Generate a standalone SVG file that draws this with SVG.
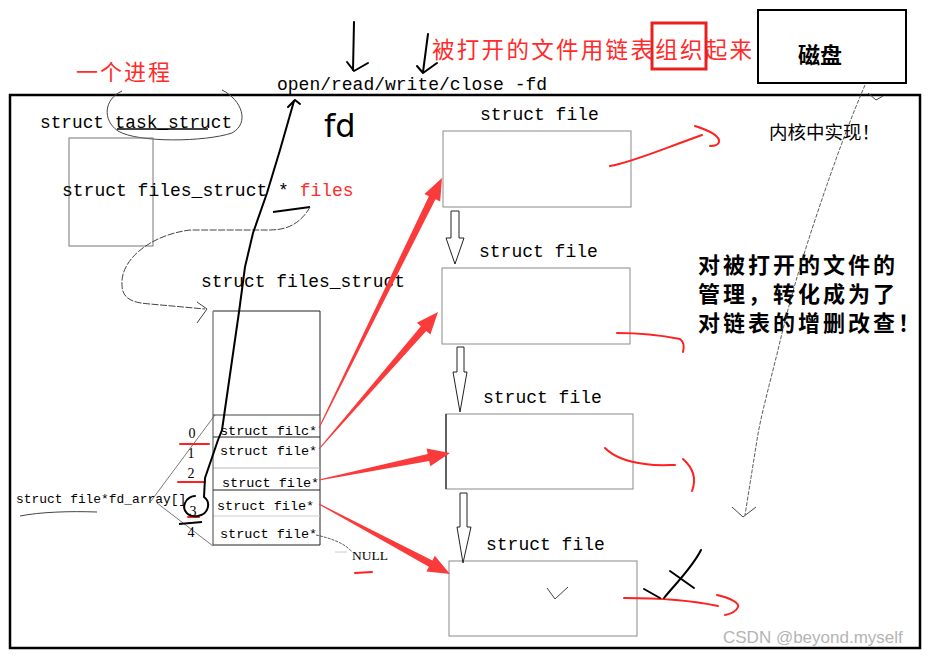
<svg xmlns="http://www.w3.org/2000/svg" width="929" height="656" viewBox="0 0 929 656">
<defs>
<style>
.mono{font-family:"Liberation Mono","DejaVu Sans Mono",monospace;fill:#000}
.serif{font-family:"Liberation Serif","DejaVu Serif",serif;fill:#000}
.cjk{font-family:"Noto Sans CJK SC",sans-serif}
.red{fill:#ff2b2b}
.box{fill:none;stroke:#8a8a8a;stroke-width:1}
.hand{fill:none;stroke:#000;stroke-width:2;stroke-linecap:round;stroke-linejoin:round}
.thin{fill:none;stroke:#444;stroke-width:1}
.rline{fill:none;stroke:#ff2020;stroke-width:2;stroke-linecap:round}
.rarrow{fill:#fb3b3b;stroke:none}
.hollow{fill:#fff;stroke:#222;stroke-width:1}
</style>
</defs>
<rect width="929" height="656" fill="#fff"/>

<!-- frame -->
<rect x="10" y="95" width="910" height="553" fill="none" stroke="#000" stroke-width="2.5"/>

<!-- disk -->
<g id="disk">
<rect x="758" y="10" width="148" height="73" fill="#fff" stroke="#000" stroke-width="2"/>
<text x="820" y="63" class="cjk" font-size="22" font-weight="bold" text-anchor="middle">磁盘</text>
</g>

<!-- title texts -->
<g id="title">
<text x="432" y="58" class="cjk red" font-size="22.5" letter-spacing="2.3">被打开的文件用链表组织起来</text>
<rect x="652" y="23" width="54" height="46" fill="none" stroke="#e82020" stroke-width="3"/>
</g>
<g id="process-label">
<text x="76" y="80" class="cjk red" font-size="22" letter-spacing="2">一个进程</text>
</g>
<g id="syscalls">
<text x="277" y="90" class="mono" font-size="18">open/read/write/close -fd</text>
<text x="324" y="137" font-family="DejaVu Sans" font-size="32" fill="#000">fd</text>
</g>

<!-- task_struct -->
<g id="task_struct">
<text x="40" y="128" class="mono" font-size="17.8">struct task_struct</text>
<line x1="117" y1="129" x2="208" y2="129" stroke="#000" stroke-width="1.5"/>
<path d="M 122 91 C 104 99, 102 120, 118 131 C 138 143, 205 142, 232 133 C 250 123, 242 100, 222 90" class="thin" stroke="#666"/>
<rect x="69" y="138" width="84" height="108" fill="none" stroke="#777" stroke-width="1"/>
<text x="62" y="196" class="mono" font-size="18">struct files_struct * <tspan class="red">files</tspan></text>
<line x1="273" y1="212" x2="310" y2="207" stroke="#000" stroke-width="2"/>
</g>

<!-- files_struct -->
<g id="files_struct">
<text x="201" y="287" class="mono" font-size="17.9">struct files_struct</text>
<path d="M 213 415 L 213 311 L 320 311 L 320 545" fill="none" stroke="#222" stroke-width="1"/>
<line x1="213" y1="311" x2="213" y2="415" stroke="#bbb" stroke-width="1"/>
<line x1="213" y1="415" x2="320" y2="415" stroke="#444" stroke-width="1"/>
<line x1="213" y1="437" x2="320" y2="437" stroke="#222" stroke-width="1"/>
<line x1="213" y1="468" x2="320" y2="468" stroke="#bbb" stroke-width="1"/>
<line x1="213" y1="490" x2="320" y2="490" stroke="#222" stroke-width="1"/>
<line x1="213" y1="516" x2="320" y2="516" stroke="#ccc" stroke-width="1"/>
<line x1="213" y1="545" x2="320" y2="545" stroke="#222" stroke-width="1"/>
<line x1="213" y1="415" x2="213" y2="545" stroke="#444" stroke-width="1"/>
<text x="220" y="435" class="mono" font-size="13.5">struct filc*</text>
<text x="220" y="455" class="mono" font-size="13.5">struct file*</text>
<text x="222" y="487" class="mono" font-size="13.5">struct file*</text>
<text x="217" y="510" class="mono" font-size="13.5">struct file*</text>
<text x="220" y="538" class="mono" font-size="13.5">struct file*</text>
</g>

<!-- fd_array -->
<g id="fd_array">
<text x="16" y="503" class="mono" font-size="12.9">struct file*fd_array[]</text>
<path d="M 20 516 C 40 512, 70 511, 97 512" class="thin" stroke="#777"/>
<line x1="151" y1="501" x2="215" y2="415" stroke="#555" stroke-width="0.8"/>
<line x1="157" y1="503" x2="213" y2="546" stroke="#555" stroke-width="0.8"/>
<g class="serif" font-size="14" text-anchor="middle">
<text x="192" y="438">0</text>
<text x="191" y="458">1</text>
<text x="191" y="478">2</text>
<text x="193" y="516">3</text>
<text x="191" y="537">4</text>
</g>
<line x1="180" y1="444" x2="209" y2="444" class="rline"/>
<line x1="178" y1="482" x2="205" y2="482" class="rline"/>
<line x1="188" y1="517" x2="199" y2="517" class="rline"/>
<line x1="179" y1="524" x2="202" y2="522" stroke="#000" stroke-width="2"/>
</g>

<!-- NULL -->
<g id="null">
<text x="352" y="560" class="serif" font-size="13.5">NULL</text>
<path d="M 316 535 C 330 538, 345 543, 352 552" fill="none" stroke="#333" stroke-width="0.8" stroke-dasharray="3 1"/>
<line x1="335" y1="552" x2="347" y2="552" stroke="#ccc" stroke-width="1"/>
<line x1="355" y1="573" x2="372" y2="572" class="rline"/>
</g>

<!-- struct file nodes -->
<g id="file1">
<text x="480" y="120" class="mono" font-size="18">struct file</text>
<rect x="443" y="131" width="188" height="76" class="box"/>
</g>
<g id="file2">
<text x="479" y="257" class="mono" font-size="18">struct file</text>
<rect x="442" y="268" width="188" height="76" class="box" stroke="#555"/>
</g>
<g id="file3">
<text x="483" y="403" class="mono" font-size="18">struct file</text>
<rect x="446" y="414" width="187" height="75" class="box" stroke="#aaa"/>
<line x1="446" y1="414" x2="446" y2="489" stroke="#000" stroke-width="1"/>
</g>
<g id="file4">
<text x="486" y="550" class="mono" font-size="18">struct file</text>
<rect x="449" y="561" width="188" height="75" class="box" stroke="#aaa"/>
<path d="M 547 588 L 555 599 L 568 587" class="thin" stroke="#222"/>
</g>

<!-- notes -->
<g id="kernel-note">
<text x="769" y="139" class="cjk" font-size="18.5" fill="#000">内核中实现！</text>
</g>
<g id="list-note" class="cjk" font-size="22" font-weight="bold" fill="#000" letter-spacing="3">
<text x="698" y="273">对被打开的文件的</text>
<text x="698" y="302">管理，转化成为了</text>
<text x="698" y="331">对链表的增删改查！</text>
</g>
<text x="723" y="643" font-family="Liberation Sans, Arial, sans-serif" font-size="17" fill="#b4b4b4">CSDN @beyond.myself</text>

<!-- connectors -->
<g id="connectors">
<!-- hollow list arrows -->
<polygon class="hollow" points="451,211 459,211 459,238 464,238 455,264 446,238 451,238"/>
<polygon class="hollow" points="457,347 464,347 464,372 467,372 460,412 453,372 457,372"/>
<polygon class="hollow" points="460,493 467,493 467,527 471,527 463,563 457,527 460,527"/>

<!-- red pointer arrows -->
<polygon class="rarrow" points="319.45,428.22 435.5,199.3 440.2,201.6 442,178 424.4,193.9 428.9,196.2 318.55,427.78"/>
<polygon class="rarrow" points="319.38,449.33 426.2,330.9 430.4,334.5 438,312 416.8,322.7 420.9,326.3 318.62,448.67"/>
<polygon class="rarrow" points="319.1,480.49 429.2,461.0 430.3,466.3 450,453 426.6,448.6 427.7,453.9 318.9,479.51"/>
<polygon class="rarrow" points="318.76,504.44 428.9,566.7 426.4,571.6 450,574 434.8,555.7 432.4,560.5 319.24,503.56"/>

<!-- files pointer to files_struct -->
<path d="M 310 207 C 300 225, 285 230, 270 230 L 190 230 C 150 235, 120 260, 122 285 C 122 300, 135 303, 150 304 L 205 309" fill="none" stroke="#444" stroke-width="1" stroke-dasharray="7 1.5"/>
<path d="M 197 302 L 207 309 L 197 323" class="thin" stroke="#333"/>

<!-- fd 3 back to syscalls -->
<path d="M 294 101 L 280 150 L 267 193 L 253 233 L 245 267 L 239 312 L 222 430 L 218 440 L 205 478 L 204 497 C 211 502, 209 514, 198 516 C 188 518, 182 510, 185 503 C 187 498, 192 496, 195 496" class="hand"/>
<path d="M 288 107 L 295 100 L 300 104" class="hand"/>

<!-- top hand-drawn arrows -->
<path d="M 354 22 L 353 70" class="hand"/>
<path d="M 347 62 L 354 71 L 368 63" class="hand"/>
<path d="M 428 34 L 423 72" class="hand"/>
<path d="M 417 66 L 423 73 L 437 63" class="hand"/>

<!-- disk to list dashed -->
<path d="M 865 85 C 850 120, 835 160, 815 220 C 795 280, 785 320, 778 350 C 768 390, 760 420, 757 440 L 745 515" fill="none" stroke="#333" stroke-width="0.8" stroke-dasharray="4 1.5"/>
<path d="M 732 507 L 743 517 L 756 507" class="thin" stroke="#333"/>
<path d="M 868 93 L 876 100 L 883 96" class="thin" stroke="#666"/>

<!-- red squiggles -->
<path d="M 610 166 C 630 163, 660 150, 702 135" class="rline"/>
<path d="M 695 126 C 708 130, 720 136, 719 142 C 718 146, 712 146, 710 146" class="rline"/>
<path d="M 617 333 C 640 333, 665 336, 680 339 C 684 342, 684 348, 683 352" class="rline"/>
<path d="M 605 448 C 615 458, 628 462, 645 464 C 658 466, 668 465, 675 465" class="rline"/>
<path d="M 683 459 C 692 467, 697 478, 692 491" class="rline"/>
<path d="M 624 598 C 650 598, 690 600, 718 606" class="rline"/>
<path d="M 717 595 C 730 598, 740 603, 738 607 C 736 612, 730 614, 725 615" class="rline"/>

<!-- black X -->
<path d="M 644 589 L 660 598" class="hand"/>
<path d="M 664 598 C 676 583, 692 568, 701 550" class="hand"/>
<path d="M 670 571 L 694 588" class="hand"/>
</g>
</svg>
